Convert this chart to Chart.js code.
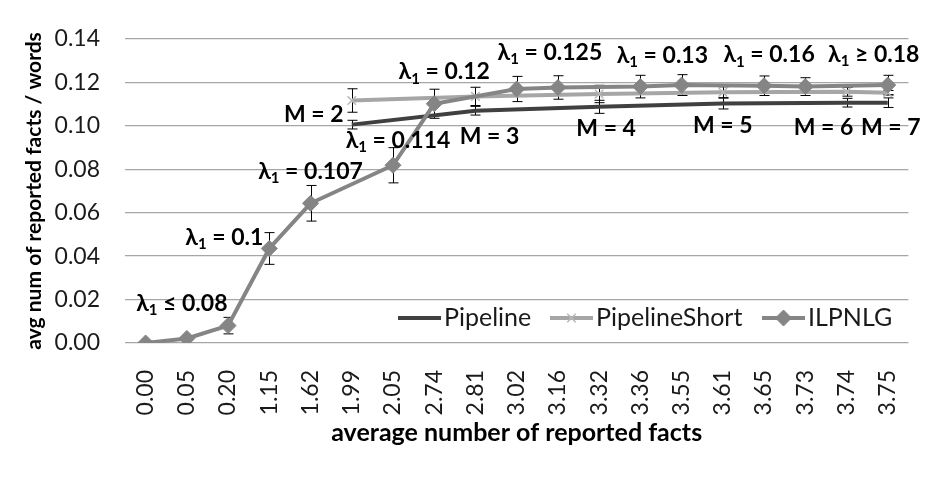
<!DOCTYPE html>
<html>
<head>
<meta charset="utf-8">
<script src="https://cdn.jsdelivr.net/npm/chart.js@4.4.1/dist/chart.umd.min.js"></script>
<style>
html, body { margin: 0; padding: 0; background: #fff; }
</style>
</head>
<body>
<canvas id="chart" width="935" height="484"></canvas>
<script>
var categories = ['0.00', '0.05', '0.20', '1.15', '1.62', '1.99', '2.05', '2.74', '2.81', '3.02',
                  '3.16', '3.32', '3.36', '3.55', '3.61', '3.65', '3.73', '3.74', '3.75'];

var pipeline      = [null, null, null, null, null, 0.1005, null, null, 0.1069, null, null, 0.1087, null, null, 0.1102, null, null, 0.1106, 0.1106];
var pipelineErr   = [null, null, null, null, null, 0.0020, null, null, 0.0020, null, null, 0.0030, null, null, 0.0025, null, null, 0.0020, 0.0022];

var pipelineShort    = [null, null, null, null, null, 0.1116, null, null, 0.1135, null, null, 0.1146, null, null, 0.1154, null, null, 0.1156, 0.1152];
var pipelineShortErr = [null, null, null, null, null, 0.0054, null, null, 0.0042, null, null, 0.0040, null, null, 0.0025, null, null, 0.0020, 0.0010];

var ilpnlg    = [0.0000, 0.0021, 0.0080, 0.0435, 0.0643, null, 0.0818, 0.1101, null, 0.1169, 0.1176, null, 0.1180, 0.1187, null, 0.1184, 0.1180, null, 0.1187];
var ilpnlgErr = [0, 0, 0.0038, 0.0073, 0.0082, null, 0.0081, 0.0067, null, 0.0058, 0.0054, null, 0.0052, 0.0048, null, 0.0045, 0.0041, null, 0.0045];

// lambda labels sit on ILPNLG points, M labels on Pipeline points
var lambdaLabels = ['\u2264 0.08', '= 0.1', '= 0.107', '= 0.114', '= 0.12', '= 0.125', '= 0.13', '= 0.16', '\u2265 0.18'];
var lambdaAt     = [1, 3, 4, 6, 7, 10, 12, 15, 18];
var mLabels      = ['M = 2', 'M = 3', 'M = 4', 'M = 5', 'M = 6', 'M = 7'];
var mAt          = [5, 8, 11, 14, 17, 18];

var FONT = 'Lato, "Open Sans", sans-serif';
var lambdaOffsets = [[-5, -35], [-45, -11], [0, -32], [5, -25], [10, -32], [-8, -35], [22, -31], [5, -31], [-14, -31]];
var mOffsets      = [[-38, -10], [14, 26], [7, 22], [0, 22], [-23, 25], [3, 25]];

var errorBars = {
    id: 'errorBars',
    beforeDatasetsDraw: function(chart){
        var ctx = chart.ctx, y = chart.scales.y;
        ctx.save();
        ctx.strokeStyle = '#000';
        ctx.lineWidth = 1;
        chart.data.datasets.forEach(function(ds, di){
            var meta = chart.getDatasetMeta(di);
            meta.data.forEach(function(pt, i){
                var v = ds.data[i], e = ds.errors[i];
                if (v == null || !e) return;
                var x = Math.round(pt.x) + 0.5;
                var t = y.getPixelForValue(v + e), b = y.getPixelForValue(v - e);
                ctx.beginPath();
                ctx.moveTo(x, t); ctx.lineTo(x, b);
                ctx.moveTo(x - 5, t); ctx.lineTo(x + 5, t);
                ctx.moveTo(x - 5, b); ctx.lineTo(x + 5, b);
                ctx.stroke();
            });
        });
        ctx.restore();
    }
};

function drawLambda(ctx, text, cx, cy){
    var big = 'bold 23px ' + FONT, small = 'bold 15px ' + FONT;
    ctx.font = big;
    var w1 = ctx.measureText('\u03bb').width;
    var w3 = ctx.measureText(' ' + text).width;
    ctx.font = small;
    var w2 = ctx.measureText('1').width;
    var x = cx - (w1 + w2 + w3) / 2;
    ctx.textAlign = 'left';
    ctx.textBaseline = 'middle';
    ctx.font = big;
    ctx.fillText('\u03bb', x, cy);
    ctx.font = small;
    ctx.fillText('1', x + w1, cy + 7);
    ctx.font = big;
    ctx.fillText(' ' + text, x + w1 + w2, cy);
}

var pointLabels = {
    id: 'pointLabels',
    afterDraw: function(chart){
        var ctx = chart.ctx, xs = chart.scales.x, ys = chart.scales.y;
        ctx.save();
        ctx.fillStyle = '#000';
        lambdaLabels.forEach(function(t, k){
            var i = lambdaAt[k];
            drawLambda(ctx, t, xs.getPixelForValue(i) + lambdaOffsets[k][0], ys.getPixelForValue(ilpnlg[i]) + lambdaOffsets[k][1]);
        });
        ctx.font = 'bold 23px ' + FONT;
        ctx.textAlign = 'center';
        ctx.textBaseline = 'middle';
        mLabels.forEach(function(t, k){
            var i = mAt[k];
            ctx.fillText(t, xs.getPixelForValue(i) + mOffsets[k][0], ys.getPixelForValue(pipeline[i]) + mOffsets[k][1]);
        });
        ctx.restore();
    }
};

var innerLegend = {
    id: 'innerLegend',
    afterDraw: function(chart){
        var ctx = chart.ctx;
        var items = [
            {x: 398, ds: chart.data.datasets[0]},
            {x: 550, ds: chart.data.datasets[1]},
            {x: 762, ds: chart.data.datasets[2]}
        ];
        var y = 318;
        ctx.save();
        items.forEach(function(it){
            var ds = it.ds;
            ctx.strokeStyle = ds.borderColor;
            ctx.lineWidth = 4;
            ctx.beginPath();
            ctx.moveTo(it.x, y); ctx.lineTo(it.x + 43, y);
            ctx.stroke();
            if (ds.pointStyle === 'crossRot' || ds.pointStyle === 'rectRot') {
                ctx.fillStyle = ds.pointBackgroundColor;
                ctx.strokeStyle = ds.pointBorderColor;
                ctx.lineWidth = ds.pointBorderWidth;
                Chart.helpers.drawPoint(ctx, {
                    pointStyle: ds.pointStyle, radius: ds.pointRadius, borderWidth: ds.pointBorderWidth, rotation: 0
                }, it.x + 21.5, y);
            }
            ctx.fillStyle = '#1a1a1a';
            ctx.font = '25px ' + FONT;
            ctx.textAlign = 'left';
            ctx.textBaseline = 'middle';
            ctx.fillText(ds.label, it.x + 46, y);
        });
        ctx.restore();
    }
};

new Chart(document.getElementById('chart').getContext('2d'), {
    type: 'line',
    data: {
        labels: categories,
        datasets: [
            {
                label: 'Pipeline',
                data: pipeline,
                errors: pipelineErr,
                borderColor: '#404040',
                borderWidth: 4,
                pointRadius: 0,
                pointStyle: false,
                spanGaps: true,
                order: 3
            },
            {
                label: 'PipelineShort',
                data: pipelineShort,
                errors: pipelineShortErr,
                borderColor: '#a6a6a6',
                borderWidth: 4,
                pointStyle: 'crossRot',
                pointRadius: 6,
                pointBorderWidth: 1.5,
                pointBorderColor: '#b8b8b8',
                pointBackgroundColor: '#b8b8b8',
                spanGaps: true,
                order: 2
            },
            {
                label: 'ILPNLG',
                data: ilpnlg,
                errors: ilpnlgErr,
                borderColor: '#858585',
                borderWidth: 4,
                pointStyle: 'rectRot',
                pointRadius: 8,
                pointBorderWidth: 1,
                pointBorderColor: '#858585',
                pointBackgroundColor: '#858585',
                spanGaps: true,
                order: 1
            }
        ]
    },
    options: {
        responsive: false,
        animation: false,
        devicePixelRatio: 1,
        layout: { padding: { top: 30, right: 25, left: 18, bottom: 32 } },
        plugins: {
            legend: { display: false },
            tooltip: { enabled: false }
        },
        scales: {
            x: {
                offset: true,
                grid: { display: false },
                border: { display: false },
                ticks: {
                    autoSkip: false,
                    minRotation: 90,
                    maxRotation: 90,
                    padding: 19,
                    color: '#1a1a1a',
                    font: { family: FONT, size: 23 }
                },
                title: {
                    display: true,
                    text: 'average number of reported facts',
                    color: '#000',
                    font: { family: FONT, size: 25, weight: 'bold' }
                },
                afterFit: function(s){ s.height = 109; }
            },
            y: {
                min: 0,
                max: 0.14,
                grid: { color: '#a6a6a6', lineWidth: 1.3, drawTicks: false },
                border: { display: false },
                ticks: {
                    stepSize: 0.02,
                    padding: 25,
                    color: '#1a1a1a',
                    font: { family: FONT, size: 23 },
                    callback: function(v){ return v.toFixed(2); }
                },
                title: {
                    display: true,
                    text: 'avg num of reported facts / words',
                    color: '#000',
                    font: { family: FONT, size: 21, weight: 'bold' }
                },
                afterFit: function(s){ s.width = 107; }
            }
        }
    },
    plugins: [errorBars, pointLabels, innerLegend]
});
</script>
</body>
</html>
